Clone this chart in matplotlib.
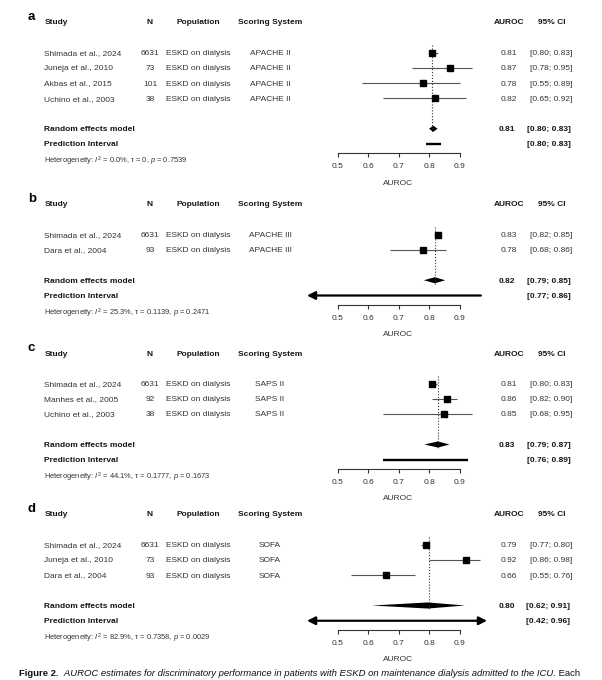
import numpy as np
import matplotlib
matplotlib.use('Agg')
import matplotlib.pyplot as plt
from matplotlib.transforms import blended_transform_factory

plt.rcParams['font.family'] = ['Liberation Sans', 'DejaVu Sans']
plt.rcParams['mathtext.fontset'] = 'custom'
plt.rcParams['mathtext.rm'] = 'Liberation Sans'
plt.rcParams['mathtext.it'] = 'Liberation Sans:italic'
plt.rcParams['mathtext.bf'] = 'Liberation Sans:bold'

# ─────────────────────────────────────────────────────────────────────────────
# DATA  (printed values + whisker extents as drawn in the figure)
# ─────────────────────────────────────────────────────────────────────────────

# a — APACHE II
a_study  = ['Shimada et al., 2024', 'Juneja et al., 2010', 'Akbas et al., 2015', 'Uchino et al., 2003']
a_n      = [6631, 73, 101, 38]
a_score  = 'APACHE II'
a_auc    = [0.81, 0.87, 0.78, 0.82]
a_ci_lo  = [0.80, 0.78, 0.55, 0.65]
a_ci_hi  = [0.83, 0.95, 0.89, 0.92]
a_bar_lo = [0.80, 0.744, 0.58, 0.649]
a_bar_hi = [0.828, 0.942, 0.903, 0.922]
a_pooled = [0.81, 0.80, 0.83]          # est, lo, hi (printed)
a_diam   = [0.814, 0.80, 0.828]         # drawn diamond
a_pred   = [0.80, 0.83]                 # printed
a_pbar   = [0.789, 0.839]               # drawn
a_het    = ['0.0%', '0', '0.7539']

# b — APACHE III
b_study  = ['Shimada et al., 2024', 'Dara et al., 2004']
b_n      = [6631, 93]
b_score  = 'APACHE III'
b_auc    = [0.83, 0.78]
b_ci_lo  = [0.82, 0.68]
b_ci_hi  = [0.85, 0.86]
b_bar_lo = [0.815, 0.672]
b_bar_hi = [0.84, 0.855]
b_pooled = [0.82, 0.79, 0.85]
b_diam   = [0.819, 0.783, 0.853]
b_pred   = [0.77, 0.86]
b_pbar   = [-np.inf, 0.97]
b_het    = ['25.3%', '0.1139', '0.2471']

# c — SAPS II
c_study  = ['Shimada et al., 2024', 'Manhes et al., 2005', 'Uchino et al., 2003']
c_n      = [6631, 92, 38]
c_score  = 'SAPS II'
c_auc    = [0.81, 0.86, 0.85]
c_ci_lo  = [0.80, 0.82, 0.68]
c_ci_hi  = [0.83, 0.90, 0.95]
c_bar_lo = [0.80, 0.81, 0.65]
c_bar_hi = [0.825, 0.893, 0.94]
c_pooled = [0.83, 0.79, 0.87]
c_diam   = [0.829, 0.785, 0.867]
c_pred   = [0.76, 0.89]
c_pbar   = [0.648, 0.928]
c_het    = ['44.1%', '0.1777', '0.1673']

# d — SOFA
d_study  = ['Shimada et al., 2024', 'Juneja et al., 2010', 'Dara et al., 2004']
d_n      = [6631, 73, 93]
d_score  = 'SOFA'
d_auc    = [0.79, 0.92, 0.66]
d_ci_lo  = [0.77, 0.86, 0.55]
d_ci_hi  = [0.80, 0.98, 0.76]
d_bar_lo = [0.775, 0.80, 0.545]
d_bar_hi = [0.797, 0.966, 0.755]
d_pooled = [0.80, 0.62, 0.91]
d_diam   = [0.796, 0.613, 0.918]
d_pred   = [0.42, 0.96]
d_pbar   = [-np.inf, np.inf]
d_het    = ['82.9%', '0.7358', '0.0029']

POPULATION = 'ESKD on dialysis'
TICKS      = [0.5, 0.6, 0.7, 0.8, 0.9]

PANELS = [
    ('a', 22,  a_study, a_n, a_score, a_auc, a_ci_lo, a_ci_hi, a_bar_lo, a_bar_hi, a_pooled, a_diam, a_pred, a_pbar, a_het),
    ('b', 204, b_study, b_n, b_score, b_auc, b_ci_lo, b_ci_hi, b_bar_lo, b_bar_hi, b_pooled, b_diam, b_pred, b_pbar, b_het),
    ('c', 353, c_study, c_n, c_score, c_auc, c_ci_lo, c_ci_hi, c_bar_lo, c_bar_hi, c_pooled, c_diam, c_pred, c_pbar, c_het),
    ('d', 514, d_study, d_n, d_score, d_auc, d_ci_lo, d_ci_hi, d_bar_lo, d_bar_hi, d_pooled, d_diam, d_pred, d_pbar, d_het),
]

# ─────────────────────────────────────────────────────────────────────────────
# LAYOUT (pixels)
# ─────────────────────────────────────────────────────────────────────────────

FIG_W, FIG_H = 602, 680
ROW          = 15.25
XLIM         = (0.40, 0.99)
X0_PX, X1_PX = 307, 487

TXT  = '#333333'
HEAD = '#151515'
FS   = 6.0

fig = plt.figure(figsize=(FIG_W / 100, FIG_H / 100), dpi=100)
fig.patch.set_facecolor('white')


def draw_panel(letter, top, study, n, score, auc, ci_lo, ci_hi, bar_lo, bar_hi,
               pooled, diam, pred, pbar, het):
    k      = len(study)
    rows   = np.arange(2, k + 2)
    r_rand = k + 3
    r_pred = k + 4
    r_het  = k + 5
    r_axis = r_pred + 0.6

    y_top = top - ROW
    y_bot = top + r_axis * ROW
    ax = fig.add_axes([X0_PX / FIG_W, 1 - y_bot / FIG_H,
                       (X1_PX - X0_PX) / FIG_W, (y_bot - y_top) / FIG_H])
    ax.set_xlim(*XLIM)
    ax.set_ylim(r_axis, -1)
    ax.patch.set_visible(False)
    for s in ('top', 'left', 'right'):
        ax.spines[s].set_visible(False)
    ax.spines['bottom'].set_bounds(TICKS[0], TICKS[-1])
    ax.spines['bottom'].set_color('#333333')
    ax.spines['bottom'].set_linewidth(0.8)
    ax.set_yticks([])
    ax.set_xticks(TICKS)
    ax.set_xticklabels([f'{t:.1f}' for t in TICKS])
    ax.tick_params(axis='x', length=3, width=0.8, color='#333333',
                   labelsize=FS, labelcolor=TXT, pad=4.2)
    ax.text(np.mean(TICKS), r_axis + 30 / ROW, 'AUROC', ha='center', va='center',
            fontsize=FS, color=TXT, clip_on=False)

    # reference line at pooled estimate
    ax.plot([pooled[0], pooled[0]], [1.5, r_rand + 0.3], ls=':', lw=0.8, color='#333333')

    # study whiskers + squares
    lo = np.clip(bar_lo, *XLIM)
    hi = np.clip(bar_hi, *XLIM)
    ax.hlines(rows, lo, hi, color='#555555', lw=0.8, zorder=2)
    ax.plot(auc, rows, 's', ms=3.8, color='black', zorder=3)

    # random effects diamond
    dh = 0.2
    ax.fill([diam[1], diam[0], diam[2], diam[0]],
            [r_rand, r_rand - dh, r_rand, r_rand + dh], color='black', lw=0)

    # prediction interval (arrows where it runs off the plot)
    plo = max(pbar[0], XLIM[0])
    phi = min(pbar[1], XLIM[1])
    left_off  = pbar[0] < XLIM[0]
    right_off = pbar[1] > XLIM[1]
    if left_off or right_off:
        style = '<|-|>' if (left_off and right_off) else '-|>'
        start, end = (phi, plo) if left_off and not right_off else (plo, phi)
        ax.annotate('', xy=(end, r_pred), xytext=(start, r_pred),
                    arrowprops=dict(arrowstyle=style, lw=1.6, color='black',
                                    mutation_scale=12, shrinkA=0, shrinkB=0),
                    annotation_clip=False)
    else:
        ax.plot([plo, phi], [r_pred, r_pred], color='black', lw=1.7,
                solid_capstyle='butt')

    # text columns
    tr = blended_transform_factory(fig.transFigure, ax.transData)

    def put(xpx, row, s, **kw):
        kw.setdefault('fontsize', FS)
        kw.setdefault('color', TXT)
        ax.text(xpx / FIG_W, row, s, transform=tr, va='center_baseline',
                clip_on=False, **kw)

    fig.text(28 / FIG_W, 1 - (top - 5) / FIG_H, letter, fontsize=9.5,
             fontweight='bold', color='black', va='center', ha='left')

    put(44.5, 0, 'Study', fontweight='bold', color=HEAD)
    put(150, 0, 'N', fontweight='bold', color=HEAD, ha='center')
    put(198, 0, 'Population', fontweight='bold', color=HEAD, ha='center')
    put(270, 0, 'Scoring System', fontweight='bold', color=HEAD, ha='center')
    put(509, 0, 'AUROC', fontweight='bold', color=HEAD, ha='center')
    put(552, 0, '95% CI', fontweight='bold', color=HEAD, ha='center')

    for r, s, nn, v, l, h in zip(rows, study, n, auc, ci_lo, ci_hi):
        put(44.5, r, s)
        put(150, r, str(nn), ha='center')
        put(198, r, POPULATION, ha='center')
        put(270, r, score, ha='center')
        put(509, r, f'{v:.2f}', ha='center')
        put(551.5, r, f'[{l:.2f}; {h:.2f}]', ha='center')

    put(44.5, r_rand, 'Random effects model', fontweight='bold', color=HEAD)
    put(507, r_rand, f'{pooled[0]:.2f}', fontweight='bold', color=HEAD, ha='center')
    put(548.5, r_rand, f'[{pooled[1]:.2f}; {pooled[2]:.2f}]', fontweight='bold',
        color=HEAD, ha='center')
    put(44.5, r_pred, 'Prediction Interval', fontweight='bold', color=HEAD)
    put(548.5, r_pred, f'[{pred[0]:.2f}; {pred[1]:.2f}]', fontweight='bold',
        color=HEAD, ha='center')
    put(44.5, r_het, f'Heterogeneity: $I^2$ = {het[0]}, τ = {het[1]}, $p$ = {het[2]}',
        fontsize=5.4)


for p in PANELS:
    draw_panel(*p)

# caption (cut at the bottom edge as in the source), scaled to span 19→581 px
cap_y  = 1 - 673 / FIG_H
cap_x0 = 19
cap_x1 = 581
parts = [('Figure 2.', dict(fontweight='bold')),
         ('  AUROC estimates for discriminatory performance in patients with ESKD '
          'on maintenance dialysis admitted to the ICU.', dict(style='italic')),
         (' Each', dict())]
texts = [fig.text(0, cap_y, s, fontsize=7.0, va='center_baseline', color='#111111', **kw)
         for s, kw in parts]

fig.canvas.draw()
r = fig.canvas.get_renderer()
total = sum(t.get_window_extent(r).width for t in texts)
scale = (cap_x1 - cap_x0) / total
x = cap_x0
for t in texts:
    t.set_fontsize(7.0 * scale)
    t.set_x(x / FIG_W)
    fig.canvas.draw()
    x += t.get_window_extent(r).width

fig.savefig('out.png', dpi=100, facecolor='white')
